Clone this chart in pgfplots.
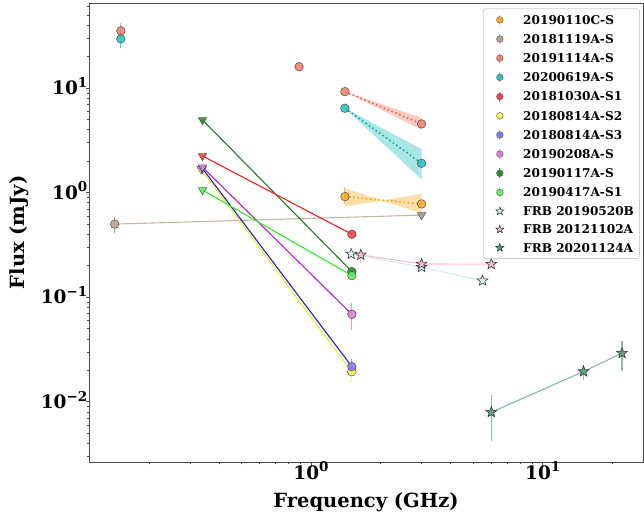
\documentclass[border=0pt]{standalone}
\usepackage{fontspec}
\setmainfont{DejaVu Serif}
\usepackage{pgfplots}
\pgfplotsset{compat=1.18}
\usetikzlibrary{plotmarks}

\definecolor{corange}{RGB}{252,172,40}
\definecolor{cbrown}{RGB}{190,160,145}
\definecolor{cbrowntri}{RGB}{160,150,148}
\definecolor{csalmon}{RGB}{242,128,108}
\definecolor{ccyan}{RGB}{40,192,192}
\definecolor{cred}{RGB}{245,65,65}
\definecolor{cyellow}{RGB}{250,250,90}
\definecolor{cblue}{RGB}{125,125,245}
\definecolor{cviolet}{RGB}{222,125,222}
\definecolor{cdgreen}{RGB}{40,140,40}
\definecolor{clgreen}{RGB}{95,240,95}
\definecolor{cstarlb}{RGB}{220,244,252}
\definecolor{cstarpk}{RGB}{250,185,200}
\definecolor{cstargr}{RGB}{95,160,120}
\definecolor{ldgreen}{RGB}{30,125,30}
\definecolor{lred}{RGB}{240,30,30}
\definecolor{lviolet}{RGB}{190,30,190}
\definecolor{lblue}{RGB}{30,30,215}
\definecolor{lyellow}{RGB}{245,235,30}
\definecolor{llgreen}{RGB}{40,238,40}
\definecolor{lbrown}{RGB}{205,180,165}
\definecolor{lpink}{RGB}{255,192,203}
\definecolor{llb}{RGB}{205,238,248}
\definecolor{lgr}{RGB}{135,190,155}
\definecolor{dsalmon}{RGB}{240,105,85}
\definecolor{dcyan}{RGB}{20,168,168}
\definecolor{dorange}{RGB}{245,165,20}

\pgfdeclareplotmark{fstar}{%
 \pgfpathmoveto{\pgfpointpolar{90}{\pgfplotmarksize}}%
 \pgfpathlineto{\pgfpointpolar{126}{0.42\pgfplotmarksize}}%
 \pgfpathlineto{\pgfpointpolar{162}{\pgfplotmarksize}}%
 \pgfpathlineto{\pgfpointpolar{198}{0.42\pgfplotmarksize}}%
 \pgfpathlineto{\pgfpointpolar{234}{\pgfplotmarksize}}%
 \pgfpathlineto{\pgfpointpolar{270}{0.42\pgfplotmarksize}}%
 \pgfpathlineto{\pgfpointpolar{306}{\pgfplotmarksize}}%
 \pgfpathlineto{\pgfpointpolar{342}{0.42\pgfplotmarksize}}%
 \pgfpathlineto{\pgfpointpolar{18}{\pgfplotmarksize}}%
 \pgfpathlineto{\pgfpointpolar{54}{0.42\pgfplotmarksize}}%
 \pgfpathclose
 \pgfusepathqfillstroke}

\newcommand{\tsup}[1]{\raisebox{7.3pt}{\fontsize{13.5}{14}\selectfont #1}}

\pgfplotsset{
 circ/.style={only marks, mark=*, mark size=4.3pt, opacity=0.88,
   mark options={fill=#1, draw=black!70, line width=0.6pt}},
 tri/.style={only marks, mark=triangle*, mark size=4.8pt, opacity=0.88,
   mark options={rotate=180, fill=#1, draw=black!70, line width=0.6pt}},
 str/.style={only marks, mark=fstar, mark size=5.6pt, opacity=0.9,
   mark options={fill=#1, draw=black!85, line width=0.6pt}},
 eb/.style={#1, line width=1.1pt, forget plot},
 errleg/.style={legend image code/.code={
   \path[draw=none,fill=none] (-10.9pt,-5pt) rectangle (10.9pt,5pt);
   \draw[##1,mark=none,line width=0.9pt] (0pt,-5pt) -- (0pt,5pt);
   \draw[##1,only marks] plot coordinates {(0pt,0pt)};}},
 starleg/.style={legend image code/.code={
   \path[draw=none,fill=none] (-10.9pt,-5pt) rectangle (10.9pt,5pt);
   \draw[##1,only marks] plot coordinates {(0pt,0pt)};}},
 lc/.style 2 args={errleg, draw=#2, mark=*, mark size=3.3pt,
   mark options={fill=#1, draw=black!60, line width=0.5pt}},
 ls/.style={starleg, mark=fstar, mark size=4.2pt,
   mark options={fill=#1, draw=black!85, line width=0.5pt}},
}

\begin{document}
\begin{tikzpicture}
\path[use as bounding box] (-89pt,-56pt) rectangle (555pt,462pt);
\begin{axis}[
 at={(0pt,0pt)}, anchor=south west,
 scale only axis, width=554pt, height=459pt,
 xmode=log, ymode=log,
 xmin=0.110, xmax=27.1, ymin=0.00266, ymax=65,
 axis line style={black!70, line width=0.8pt},
 tick align=outside, xtick pos=left, ytick pos=left,
 xtick={1,10}, xticklabels={10\tsup{0},10\tsup{1}},
 ytick={0.01,0.1,1,10}, yticklabels={10\tsup{−2},10\tsup{−1},10\tsup{0},10\tsup{1}},
 minor xtick={0.2,0.3,0.4,0.5,0.6,0.7,0.8,0.9,2,3,4,5,6,7,8,9,20},
 minor ytick={0.003,0.004,0.005,0.006,0.007,0.008,0.009,0.02,0.03,0.04,0.05,0.06,0.07,0.08,0.09,0.2,0.3,0.4,0.5,0.6,0.7,0.8,0.9,2,3,4,5,6,7,8,9,20,30,40,50,60},
 major tick length=3.5pt, minor tick length=2pt,
 every tick/.style={black!70, line width=0.8pt},
 minor tick style={line width=0.6pt},
 tick label style={font=\fontsize{18.5}{20}\selectfont\bfseries, inner sep=0pt},
 xticklabel style={anchor=base, yshift=-13.5pt},
 yticklabel style={anchor=base east, xshift=2pt, yshift=-6.6pt},
 xlabel={Frequency (GHz)}, ylabel={Flux (mJy)},
 label style={font=\fontsize{19.5}{21}\selectfont\bfseries},
 xlabel style={at={(axis description cs:0.5,0)}, anchor=center, yshift=-40pt},
 ylabel style={at={(axis description cs:0,0.5)}, anchor=center, yshift=70pt},
 legend style={at={(1,1)}, anchor=north east, xshift=-3pt, yshift=-5.3pt,
   draw=black!18, line width=0.8pt, rounded corners=2.5pt, fill=white,
   font=\fontsize{12.1}{14}\selectfont\bfseries,
   inner xsep=5.7pt, inner ysep=5.7pt, row sep=8.28pt, column sep=12.5pt,
   nodes={draw=none, inner sep=0pt, text height=8.8pt, text depth=0pt}},
 legend cell align=left,
]
% uncertainty bands
\addplot[draw=none, fill=csalmon, fill opacity=0.4, forget plot] coordinates {(1.4,9.24) (3,5.18) (3,3.98)} -- cycle;
\addplot[draw=none, fill=ccyan, fill opacity=0.4, forget plot] coordinates {(1.4,6.41) (3,2.60) (3,1.34)} -- cycle;
\addplot[draw=none, fill=corange, fill opacity=0.4, forget plot] coordinates {(1.4,1.10) (3,0.635) (3,0.97) (1.4,0.735)} -- cycle;
% connecting lines
\addplot[lbrown, line width=1.1pt, forget plot] coordinates {(0.142,0.50) (3,0.61)};
\addplot[ldgreen, line width=1.1pt, forget plot] coordinates {(0.34,4.95) (1.5,0.176)};
\addplot[lred, line width=1.1pt, forget plot] coordinates {(0.34,2.24) (1.5,0.40)};
\addplot[lyellow, line width=1.1pt, forget plot] coordinates {(0.335,1.68) (1.5,0.0194)};
\addplot[lblue, line width=1.1pt, forget plot] coordinates {(0.34,1.70) (1.5,0.0217)};
\addplot[lviolet, line width=1.1pt, forget plot] coordinates {(0.34,1.75) (1.5,0.0687)};
\addplot[llgreen, line width=1.1pt, forget plot] coordinates {(0.34,1.06) (1.5,0.161)};
\addplot[lpink, line width=1.1pt, forget plot] coordinates {(1.64,0.254) (3,0.208) (6,0.207)};
\addplot[llb, line width=1.1pt, forget plot] coordinates {(1.49,0.259) (3,0.194) (5.5,0.144)};
\addplot[lgr, line width=1.1pt, forget plot] coordinates {(6,0.00796) (15,0.0195) (22,0.0292)};
% dotted fits
\addplot[dsalmon, line width=1.6pt, dash pattern=on 1.6pt off 2.6pt, forget plot] coordinates {(1.4,9.24) (3,4.54)};
\addplot[dcyan, line width=1.6pt, dash pattern=on 1.6pt off 2.6pt, forget plot] coordinates {(1.4,6.41) (3,1.91)};
\addplot[dorange, line width=1.6pt, dash pattern=on 1.6pt off 2.6pt, forget plot] coordinates {(1.4,0.916) (3,0.78)};
% error bars
\addplot[eb=csalmon!80] coordinates {(0.151,29) (0.151,42)};
\addplot[eb=ccyan!80] coordinates {(0.151,24) (0.151,33)};
\addplot[eb=cbrown] coordinates {(0.142,0.41) (0.142,0.59)};
\addplot[eb=corange!80] coordinates {(1.4,0.78) (1.4,1.12)};
\addplot[eb=cviolet!80] coordinates {(1.5,0.0489) (1.5,0.0889)};
\addplot[eb=cyellow!90] coordinates {(1.5,0.0156) (1.5,0.024)};
\addplot[eb=cblue!80] coordinates {(1.5,0.018) (1.5,0.0255)};
\addplot[eb=cstarpk] coordinates {(1.64,0.211) (1.64,0.283)};
\addplot[eb=lgr] coordinates {(6,0.00426) (6,0.01164)};
\addplot[eb=lgr] coordinates {(15,0.0162) (15,0.0225)};
\addplot[eb=lgr] coordinates {(22,0.0198) (22,0.0385)};
% markers
\addplot[circ=corange, forget plot] coordinates {(1.4,0.916) (3,0.78)};
\addplot[circ=cbrown, forget plot] coordinates {(0.142,0.50)};
\addplot[tri=cbrowntri, forget plot] coordinates {(3,0.61)};
\addplot[circ=csalmon, forget plot] coordinates {(0.151,35.2) (0.888,16.0) (1.4,9.24) (3,4.54)};
\addplot[circ=ccyan, forget plot] coordinates {(0.151,29.5) (1.4,6.41) (3,1.91)};
\addplot[tri=cred, forget plot] coordinates {(0.34,2.24)};
\addplot[circ=cred, forget plot] coordinates {(1.5,0.40)};
\addplot[tri=cyellow, forget plot] coordinates {(0.335,1.68)};
\addplot[circ=cyellow, forget plot] coordinates {(1.5,0.0194)};
\addplot[tri=cblue, forget plot] coordinates {(0.34,1.70)};
\addplot[circ=cblue, forget plot] coordinates {(1.5,0.0217)};
\addplot[tri=cviolet, forget plot] coordinates {(0.34,1.75)};
\addplot[circ=cviolet, forget plot] coordinates {(1.5,0.0687)};
\addplot[tri=cdgreen, forget plot] coordinates {(0.34,4.95)};
\addplot[circ=cdgreen, forget plot] coordinates {(1.5,0.176)};
\addplot[tri=clgreen, forget plot] coordinates {(0.34,1.06)};
\addplot[circ=clgreen, forget plot] coordinates {(1.5,0.161)};
\addplot[str=cstarlb, forget plot] coordinates {(1.49,0.259) (3,0.194) (5.5,0.144)};
\addplot[str=cstarpk, forget plot] coordinates {(1.64,0.254) (3,0.208) (6,0.207)};
\addplot[str=cstargr, forget plot] coordinates {(6,0.00796) (15,0.0195) (22,0.0292)};
% legend
\addlegendimage{lc={corange}{corange!80}}\addlegendentry{20190110C-S}
\addlegendimage{lc={cbrown}{cbrown}}\addlegendentry{20181119A-S}
\addlegendimage{lc={csalmon}{csalmon!80}}\addlegendentry{20191114A-S}
\addlegendimage{lc={ccyan}{ccyan!80}}\addlegendentry{20200619A-S}
\addlegendimage{lc={cred}{cred!80}}\addlegendentry{20181030A-S1}
\addlegendimage{lc={cyellow}{cyellow}}\addlegendentry{20180814A-S2}
\addlegendimage{lc={cblue}{cblue!80}}\addlegendentry{20180814A-S3}
\addlegendimage{lc={cviolet}{cviolet!80}}\addlegendentry{20190208A-S}
\addlegendimage{lc={cdgreen}{cdgreen!80}}\addlegendentry{20190117A-S}
\addlegendimage{lc={clgreen}{clgreen!80}}\addlegendentry{20190417A-S1}
\addlegendimage{ls={cstarlb}}\addlegendentry{FRB 20190520B}
\addlegendimage{ls={cstarpk}}\addlegendentry{FRB 20121102A}
\addlegendimage{ls={cstargr}}\addlegendentry{FRB 20201124A}
\end{axis}
\end{tikzpicture}
\end{document}
